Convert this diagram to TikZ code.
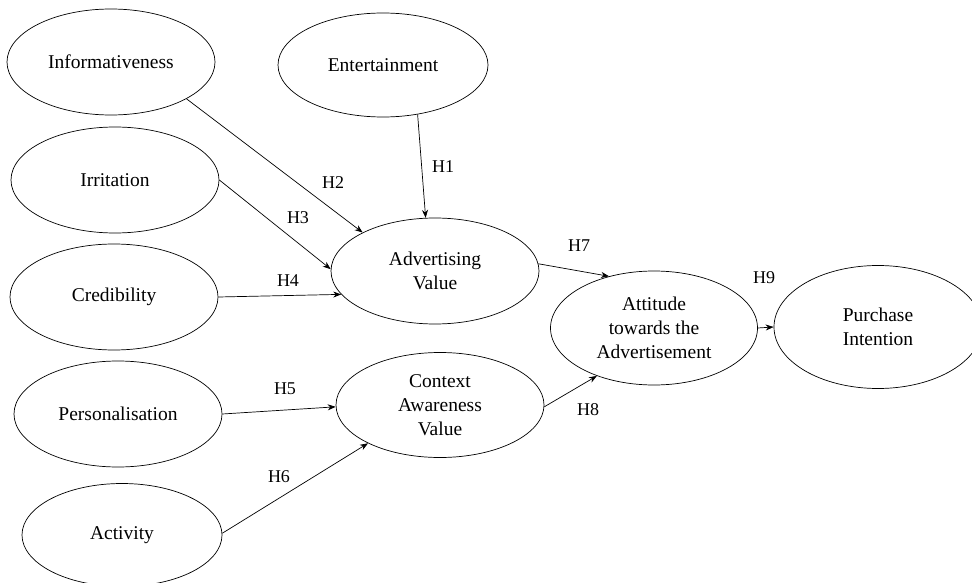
\documentclass[tikz,border=0pt]{standalone}
\usepackage{fontspec}
\setmainfont{Liberation Serif}
\usetikzlibrary{arrows.meta,shapes.geometric}
\begin{document}
\begin{tikzpicture}[x=1pt,y=-1pt,
  construct/.style={draw, ellipse, line width=0.7pt, minimum width=208pt, minimum height=106pt,
    inner sep=0pt, align=center, font=\fontsize{19.5}{24}\selectfont},
  link/.style={-{Stealth[length=8pt,width=6pt]}, line width=0.7pt},
  hlabel/.style={font=\fontsize{18}{20}\selectfont, inner sep=0pt}]
\useasboundingbox (0,0) rectangle (972,583);
\clip (0,0) rectangle (972,583);
\node[construct] (inf) at (111,62) {Informativeness};
\node[construct, minimum width=210pt, minimum height=104pt] (ent) at (383,65) {Entertainment};
\node[construct] (irr) at (115,180) {Irritation};
\node[construct] (cred) at (114,297) {Credibility};
\node[construct] (pers) at (118,414) {Personalisation};
\node[construct, minimum width=200pt, minimum height=103pt] (act) at (122,535) {Activity};
\node[construct] (adv) at (435,271) {Advertising\\Value};
\node[construct, minimum height=105pt] (cav) at (440,405) {Context\\Awareness\\Value};
\node[construct, minimum width=207pt, minimum height=114pt] (att) at (654,328) {Attitude\\towards the\\Advertisement};
\node[construct, minimum height=123pt] (pur) at (878,327) {Purchase\\Intention};

\draw[link] (ent.-55.5) -- (adv.100);
\draw[link] (inf.-26.6) -- (adv.152.5);
\draw[link] (irr.0) -- (adv.179);
\draw[link] (cred.0) -- (adv.194);
\draw[link] (pers.0) -- (cav.181);
\draw[link] (act.1) -- (cav.208.7);
\draw[link] (adv.4) -- (att.131);
\draw[link] (cav.-1) -- (att.220.6);
\draw[link] (att.0) -- (pur.180);

\node[hlabel] (l1) at (443,167) {H1};
\node[hlabel] (l2) at (333,183) {H2};
\node[hlabel] (l3) at (298,218) {H3};
\node[hlabel] (l4) at (288,281) {H4};
\node[hlabel] (l5) at (285,389) {H5};
\node[hlabel] (l6) at (279,477) {H6};
\node[hlabel] (l7) at (579,246) {H7};
\node[hlabel] (l8) at (588,410) {H8};
\node[hlabel] (l9) at (764,278) {H9};
\end{tikzpicture}
\end{document}
